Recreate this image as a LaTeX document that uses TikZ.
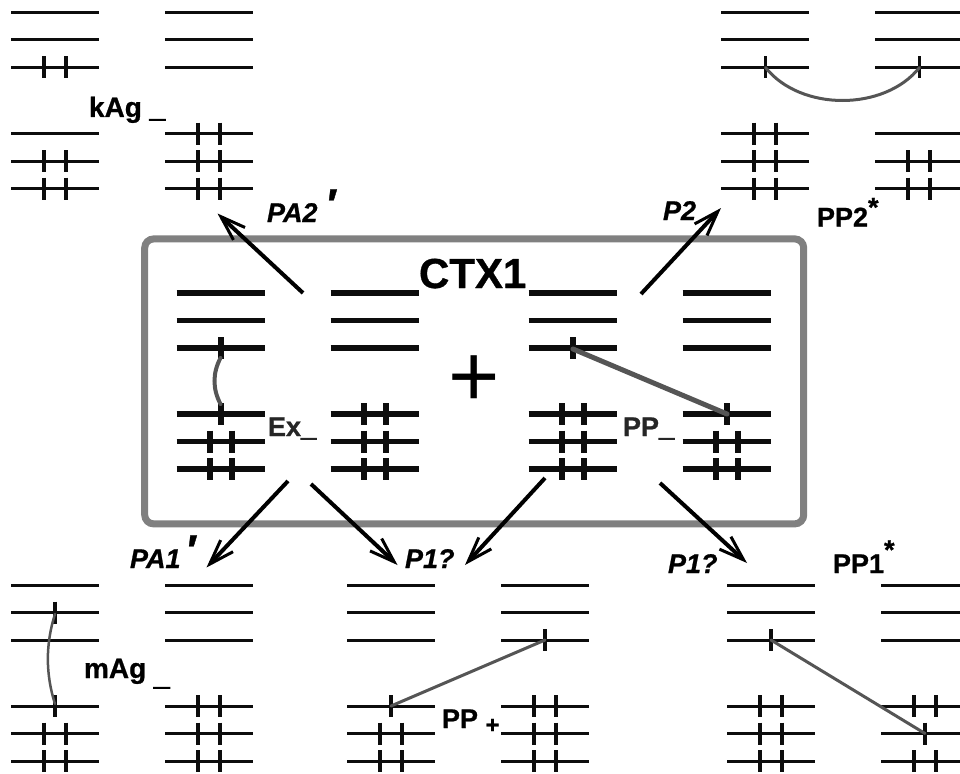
\documentclass[tikz,border=0pt]{standalone}
\usepackage{fontspec}
\setmainfont{Liberation Sans}[BoldFeatures={FakeBold=0.8},BoldItalicFeatures={FakeBold=0.8}]
\newfontface\dashFace{Liberation Sans Bold}[FakeBold=3.5]
\usetikzlibrary{arrows.meta}
\definecolor{boxColor}{HTML}{808080}
\definecolor{linkColor}{HTML}{555555}
\tikzset{
	thin level/.style={black!95,line width=3pt},
	thick level/.style={black!95,line width=5.5pt},
	thin tick/.style={black!95,line width=3.5pt},
	thick tick/.style={black!95,line width=6pt},
	orbital link/.style={linkColor,line cap=round},
	transition/.style={black,line width=4pt,-{Straight Barb[length=25pt,width=17pt,line width=3pt]}},
	lab/.style={anchor=base west,inner sep=0pt,outer sep=0pt,font=\bfseries\fontsize{27}{30}\selectfont},
	ital lab/.style={lab,font=\bfseries\itshape\fontsize{27}{30}\selectfont}
}
% six levels of one orbital set
\newcommand{\levels}[3]{\foreach \dy in {0,27.5,55,121,148.5,176} \draw[#3] (#1,#2+\dy) -- +(88,0);}
% one tick at a point, and a pair of ticks round a centre
\newcommand{\oneTick}[3]{\draw[#3] (#1,#2-11) -- (#1,#2+11);}
\newcommand{\twoTicks}[3]{\oneTick{#1-11}{#2}{#3}\oneTick{#1+11}{#2}{#3}}
\newcommand{\upStar}[1]{\raisebox{#1}{*}}
\newcommand{\upPrime}{\raisebox{3pt}{\fontsize{43}{43}\selectfont ′}}
\newcommand{\lowDash}{{\dashFace\_}}

\begin{document}
\begin{tikzpicture}[x=1pt,y=-1pt]
	\clip (0,0) rectangle (960,773);
	\node[draw=boxColor,line width=7pt,rounded corners=9pt,minimum width=659pt,minimum height=285pt,inner sep=0pt] (ctx) at (474.2,381.4) {};

	% top row
	\levels{11}{12.5}{thin level}
	\levels{165}{12.5}{thin level}
	\levels{721}{12.5}{thin level}
	\levels{875}{12.5}{thin level}
	\twoTicks{55}{67.5}{thin tick}
	\foreach \y in {161,188.5} {\twoTicks{55}{\y}{thin tick}}
	\foreach \y in {133.5,161,188.5} {\twoTicks{209}{\y}{thin tick}}
	\oneTick{765.5}{67.5}{thin tick}
	\oneTick{919.5}{67.5}{thin tick}
	\foreach \y in {133.5,161,188.5} {\twoTicks{765}{\y}{thin tick}}
	\foreach \y in {161,188.5} {\twoTicks{919}{\y}{thin tick}}

	% box
	\levels{176.5}{293}{thick level}
	\levels{330.5}{293}{thick level}
	\levels{528.5}{293}{thick level}
	\levels{682.5}{293}{thick level}
	\oneTick{220.5}{348}{thick tick}
	\oneTick{220.5}{414}{thick tick}
	\foreach \y in {441.5,469} {\twoTicks{220.5}{\y}{thick tick}}
	\foreach \y in {414,441.5,469} {\twoTicks{374.5}{\y}{thick tick}}
	\oneTick{572.5}{348}{thick tick}
	\foreach \y in {414,441.5,469} {\twoTicks{572.5}{\y}{thick tick}}
	\oneTick{726.5}{414}{thick tick}
	\foreach \y in {441.5,469} {\twoTicks{726.5}{\y}{thick tick}}

	% bottom row
	\levels{11}{585}{thin level}
	\levels{165}{585}{thin level}
	\levels{347}{585}{thin level}
	\levels{501}{585}{thin level}
	\levels{727}{585}{thin level}
	\levels{881}{585}{thin level}
	\oneTick{55}{612.5}{thin tick}
	\oneTick{55}{706}{thin tick}
	\foreach \y in {733.5,761} {\twoTicks{55}{\y}{thin tick}}
	\foreach \y in {706,733.5,761} {\twoTicks{209}{\y}{thin tick}}
	\oneTick{391}{706}{thin tick}
	\foreach \y in {733.5,761} {\twoTicks{391}{\y}{thin tick}}
	\oneTick{545}{640}{thin tick}
	\foreach \y in {706,733.5,761} {\twoTicks{545}{\y}{thin tick}}
	\oneTick{771}{640}{thin tick}
	\foreach \y in {706,733.5,761} {\twoTicks{771}{\y}{thin tick}}
	\oneTick{925}{733.5}{thin tick}
	\foreach \y in {706,761} {\twoTicks{925}{\y}{thin tick}}

	% ends of the links
	\coordinate (kp_l) at (765.5,67.5);
	\coordinate (kp_r) at (919.5,67.5);
	\coordinate (ex_t) at (220.5,358);
	\coordinate (ex_b) at (220.5,404);
	\coordinate (pp_t) at (573,349);
	\coordinate (pp_b) at (727,414);
	\coordinate (mg_t) at (55,614);
	\coordinate (mg_b) at (55,704);
	\coordinate (pq_b) at (391,706);
	\coordinate (pq_t) at (545,640);
	\coordinate (ps_t) at (771,640);
	\coordinate (ps_b) at (925,733.5);
	\draw[orbital link,line width=3pt] (kp_l) .. controls +(35,44) and +(-35,44) .. (kp_r);
	\draw[orbital link,line width=4pt] (ex_t) .. controls +(-8,15) and +(-8,-15) .. (ex_b);
	\draw[orbital link,line width=5pt] (pp_t) -- (pp_b);
	\draw[orbital link,line width=2.5pt] (mg_t) .. controls +(-9.5,30) and +(-9.5,-30) .. (mg_b);
	\draw[orbital link,line width=3pt] (pq_b) -- (pq_t);
	\draw[orbital link,line width=3pt] (ps_t) -- (ps_b);

	% transitions
	\coordinate (pa2_a) at (303,293);
	\coordinate (pa2_b) at (217.5,213.5);
	\coordinate (p2_a) at (641,294);
	\coordinate (p2_b) at (721,208);
	\coordinate (pa1_a) at (288,481);
	\coordinate (pa1_b) at (206.5,567.5);
	\coordinate (pl_a) at (311,484);
	\coordinate (pl_b) at (397.5,565);
	\coordinate (pm_a) at (545,478);
	\coordinate (pm_b) at (465,565);
	\coordinate (pr_a) at (660,483);
	\coordinate (pr_b) at (747,563);
	\draw[transition] (pa2_a) -- (pa2_b);
	\draw[transition] (p2_a) -- (p2_b);
	\draw[transition] (pa1_a) -- (pa1_b);
	\draw[transition] (pl_a) -- (pl_b);
	\draw[transition] (pm_a) -- (pm_b);
	\draw[transition] (pr_a) -- (pr_b);

	% labels
	\node[lab,font=\bfseries\fontsize{42}{44}\selectfont] (lab_ctx) at (419,288) {CTX1};
	\node[inner sep=0pt,font=\fontsize{88}{90}\selectfont] (lab_plus) at (473.7,381) {+};
	\node[lab,font=\bfseries\fontsize{28}{30}\selectfont] (lab_kag) at (89,117) {kAg \lowDash};
	\node[lab,font=\bfseries\fontsize{28}{30}\selectfont] (lab_mag) at (84,678) {mAg \raisebox{-7pt}{\lowDash}};
	\node[lab,black!85] (lab_ex) at (268,436) {Ex\lowDash};
	\node[lab,black!85] (lab_pp) at (623,436) {PP\lowDash};
	\node[lab] (lab_ppp) at (442,728) {PP \raisebox{-5pt}{\fontsize{24}{24}\selectfont +}};
	\node[lab] (lab_pp2) at (817,226.5) {PP2\upStar{10pt}};
	\node[lab] (lab_pp1) at (833,573) {PP1\upStar{14pt}};
	\node[ital lab] (lab_pa2) at (267,222) {PA2 \upPrime};
	\node[ital lab] (lab_p2) at (663,220) {P2};
	\node[ital lab] (lab_pa1) at (130,568) {PA1\,\upPrime};
	\node[ital lab] (lab_p1l) at (405,568) {P1?};
	\node[ital lab] (lab_p1r) at (668,573) {P1?};
\end{tikzpicture}
\end{document}
